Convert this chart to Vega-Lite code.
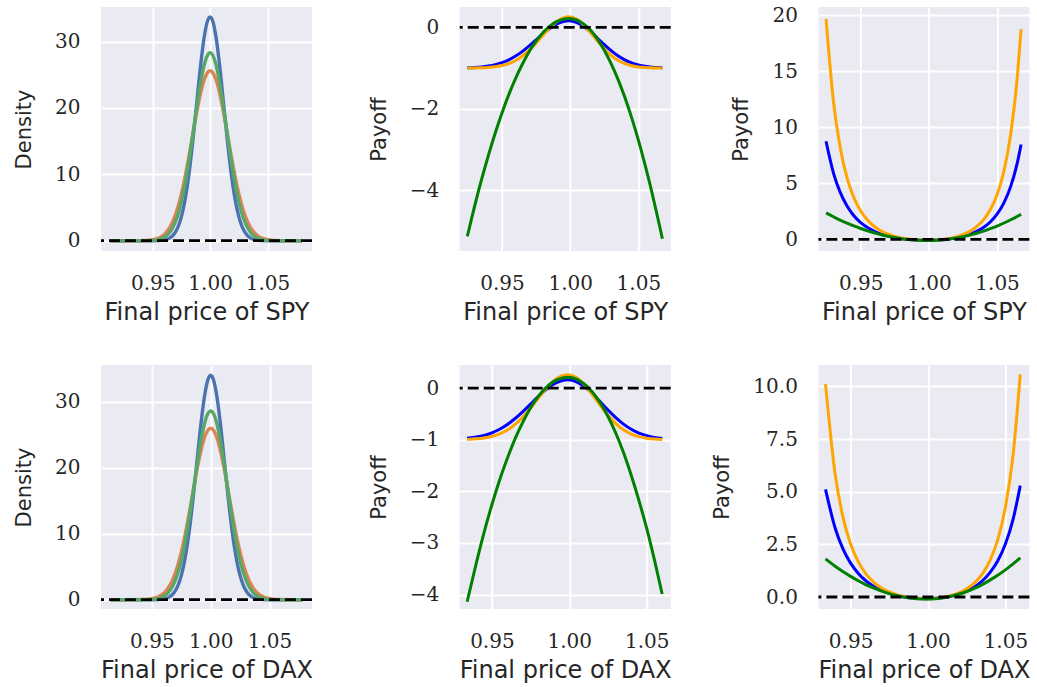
{
  "$schema": "https://vega.github.io/schema/vega-lite/v6.json",
  "background": "white",
  "padding": {"left": 13, "top": 5, "right": 5, "bottom": 5},
  "config": {
    "view": {"fill": "#eaeaf2", "stroke": null},
    "axis": {"grid": true, "gridColor": "white", "gridWidth": 2, "domain": false, "ticks": false,
      "labelFont": "DejaVu Serif", "labelFontSize": 20, "labelColor": "#262626",
      "titleFont": "DejaVu Sans", "titleFontWeight": "normal", "titleColor": "#262626"},
    "axisX": {"labelPadding": 22, "titlePadding": 7, "titleFontSize": 24},
    "axisY": {"labelPadding": 21, "titlePadding": 20, "titleFontSize": 21},
    "line": {"strokeWidth": 3, "interpolate": "monotone"}
  },
  "datasets": {
    "p1": [
      {"x":0.913,"b":0,"o":0,"g":0},{"x":0.93,"b":0,"o":0,"g":0},{"x":0.94,"b":0,"o":0.02,"g":0},{"x":0.945,"b":0,"o":0.05,"g":0.01},
      {"x":0.95,"b":0,"o":0.15,"g":0.05},{"x":0.955,"b":0.02,"o":0.4,"g":0.17},{"x":0.9575,"b":0.05,"o":0.62,"g":0.3},{"x":0.96,"b":0.11,"o":0.95,"g":0.51},
      {"x":0.9625,"b":0.22,"o":1.42,"g":0.82},{"x":0.965,"b":0.43,"o":2.06,"g":1.3},{"x":0.9675,"b":0.78,"o":2.91,"g":1.98},{"x":0.97,"b":1.36,"o":4.01,"g":2.94},
      {"x":0.9725,"b":2.27,"o":5.4,"g":4.22},{"x":0.975,"b":3.62,"o":7.07,"g":5.87},{"x":0.9775,"b":5.54,"o":9.03,"g":7.92},{"x":0.98,"b":8.09,"o":11.24,"g":10.34},
      {"x":0.9825,"b":11.3,"o":13.63,"g":13.1},{"x":0.985,"b":15.1,"o":16.11,"g":16.07},{"x":0.9875,"b":19.3,"o":18.56,"g":19.1},{"x":0.99,"b":23.59,"o":20.84,"g":22.0},
      {"x":0.9925,"b":27.57,"o":22.8,"g":24.56},{"x":0.995,"b":30.82,"o":24.32,"g":26.57},{"x":0.9975,"b":32.96,"o":25.27,"g":27.86},{"x":1.0,"b":33.7,"o":25.6,"g":28.3},
      {"x":1.0025,"b":32.96,"o":25.27,"g":27.86},{"x":1.005,"b":30.82,"o":24.32,"g":26.57},{"x":1.0075,"b":27.57,"o":22.8,"g":24.56},{"x":1.01,"b":23.59,"o":20.84,"g":22.0},
      {"x":1.0125,"b":19.3,"o":18.56,"g":19.1},{"x":1.015,"b":15.1,"o":16.11,"g":16.07},{"x":1.0175,"b":11.3,"o":13.63,"g":13.1},{"x":1.02,"b":8.09,"o":11.24,"g":10.34},
      {"x":1.0225,"b":5.54,"o":9.03,"g":7.92},{"x":1.025,"b":3.62,"o":7.07,"g":5.87},{"x":1.0275,"b":2.27,"o":5.4,"g":4.22},{"x":1.03,"b":1.36,"o":4.01,"g":2.94},
      {"x":1.0325,"b":0.78,"o":2.91,"g":1.98},{"x":1.035,"b":0.43,"o":2.06,"g":1.3},{"x":1.0375,"b":0.22,"o":1.42,"g":0.82},{"x":1.04,"b":0.11,"o":0.95,"g":0.51},
      {"x":1.0425,"b":0.05,"o":0.62,"g":0.3},{"x":1.045,"b":0.02,"o":0.4,"g":0.17},{"x":1.05,"b":0,"o":0.15,"g":0.05},{"x":1.055,"b":0,"o":0.05,"g":0.01},
      {"x":1.06,"b":0,"o":0.02,"g":0},{"x":1.07,"b":0,"o":0,"g":0},{"x":1.08,"b":0,"o":0,"g":0}
    ],
    "p2": [
      {"x":0.9246,"b":-0.992,"o":-0.999,"g":-5.13},{"x":0.93,"b":-0.984,"o":-0.997,"g":-4.38},{"x":0.935,"b":-0.971,"o":-0.992,"g":-3.74},
      {"x":0.94,"b":-0.949,"o":-0.984,"g":-3.15},{"x":0.945,"b":-0.916,"o":-0.967,"g":-2.6},{"x":0.95,"b":-0.866,"o":-0.937,"g":-2.1},
      {"x":0.955,"b":-0.797,"o":-0.888,"g":-1.65},{"x":0.96,"b":-0.705,"o":-0.812,"g":-1.25},{"x":0.965,"b":-0.59,"o":-0.703,"g":-0.9},
      {"x":0.97,"b":-0.456,"o":-0.56,"g":-0.59},{"x":0.975,"b":-0.309,"o":-0.387,"g":-0.34},{"x":0.98,"b":-0.162,"o":-0.198,"g":-0.13},
      {"x":0.985,"b":-0.028,"o":-0.014,"g":0.03},{"x":0.99,"b":0.078,"o":0.139,"g":0.14},{"x":0.995,"b":0.143,"o":0.235,"g":0.2},
      {"x":0.999,"b":0.16,"o":0.26,"g":0.22},{"x":1.005,"b":0.117,"o":0.196,"g":0.18},{"x":1.01,"b":0.023,"o":0.057,"g":0.08},
      {"x":1.015,"b":-0.111,"o":-0.131,"g":-0.07},{"x":1.02,"b":-0.267,"o":-0.335,"g":-0.29},{"x":1.025,"b":-0.426,"o":-0.527,"g":-0.56},
      {"x":1.03,"b":-0.573,"o":-0.687,"g":-0.89},{"x":1.035,"b":-0.699,"o":-0.808,"g":-1.27},{"x":1.04,"b":-0.798,"o":-0.89,"g":-1.71},
      {"x":1.045,"b":-0.872,"o":-0.941,"g":-2.21},{"x":1.05,"b":-0.922,"o":-0.971,"g":-2.77},{"x":1.055,"b":-0.956,"o":-0.987,"g":-3.39},
      {"x":1.06,"b":-0.976,"o":-0.994,"g":-4.06},{"x":1.065,"b":-0.987,"o":-0.998,"g":-4.79},{"x":1.0676,"b":-0.991,"o":-0.999,"g":-5.19}
    ],
    "p3": [
      {"x":0.9246,"b":8.76,"o":19.67,"g":2.36},{"x":0.93,"b":5.94,"o":12.35,"g":2.02},{"x":0.935,"b":4.19,"o":8.18,"g":1.72},
      {"x":0.94,"b":2.97,"o":5.49,"g":1.45},{"x":0.945,"b":2.11,"o":3.72,"g":1.2},{"x":0.95,"b":1.49,"o":2.53,"g":0.97},
      {"x":0.955,"b":1.05,"o":1.72,"g":0.76},{"x":0.96,"b":0.72,"o":1.15,"g":0.58},{"x":0.965,"b":0.47,"o":0.75,"g":0.41},
      {"x":0.97,"b":0.29,"o":0.47,"g":0.27},{"x":0.975,"b":0.16,"o":0.27,"g":0.16},{"x":0.98,"b":0.06,"o":0.12,"g":0.06},
      {"x":0.985,"b":-0.005,"o":0.026,"g":-0.01},{"x":0.99,"b":-0.05,"o":-0.04,"g":-0.06},{"x":0.995,"b":-0.074,"o":-0.072,"g":-0.093},
      {"x":0.999,"b":-0.08,"o":-0.08,"g":-0.1},{"x":1.005,"b":-0.065,"o":-0.058,"g":-0.082},{"x":1.01,"b":-0.027,"o":-0.005,"g":-0.04},
      {"x":1.015,"b":0.036,"o":0.085,"g":0.027},{"x":1.02,"b":0.13,"o":0.22,"g":0.12},{"x":1.025,"b":0.26,"o":0.42,"g":0.24},
      {"x":1.03,"b":0.45,"o":0.71,"g":0.38},{"x":1.035,"b":0.71,"o":1.13,"g":0.54},{"x":1.04,"b":1.06,"o":1.74,"g":0.73},
      {"x":1.045,"b":1.55,"o":2.64,"g":0.95},{"x":1.05,"b":2.25,"o":3.99,"g":1.19},{"x":1.055,"b":3.26,"o":6.08,"g":1.46},
      {"x":1.06,"b":4.73,"o":9.38,"g":1.75},{"x":1.065,"b":6.92,"o":14.72,"g":2.06},{"x":1.0676,"b":8.47,"o":18.77,"g":2.23}
    ],
    "p4": [
      {"x":0.915,"b":0,"o":0,"g":0},{"x":0.93,"b":0,"o":0,"g":0},{"x":0.94,"b":0,"o":0.02,"g":0},{"x":0.945,"b":0,"o":0.05,"g":0.01},
      {"x":0.95,"b":0,"o":0.15,"g":0.05},{"x":0.955,"b":0.02,"o":0.41,"g":0.17},{"x":0.9575,"b":0.05,"o":0.63,"g":0.3},{"x":0.96,"b":0.11,"o":0.96,"g":0.52},
      {"x":0.9625,"b":0.22,"o":1.44,"g":0.83},{"x":0.965,"b":0.43,"o":2.09,"g":1.31},{"x":0.9675,"b":0.79,"o":2.96,"g":2.0},{"x":0.97,"b":1.37,"o":4.07,"g":2.97},
      {"x":0.9725,"b":2.29,"o":5.48,"g":4.26},{"x":0.975,"b":3.65,"o":7.18,"g":5.93},{"x":0.9775,"b":5.59,"o":9.17,"g":8.0},{"x":0.98,"b":8.16,"o":11.42,"g":10.45},
      {"x":0.9825,"b":11.4,"o":13.84,"g":13.24},{"x":0.985,"b":15.23,"o":16.36,"g":16.24},{"x":0.9875,"b":19.47,"o":18.85,"g":19.3},{"x":0.99,"b":23.8,"o":21.17,"g":22.23},
      {"x":0.9925,"b":27.82,"o":23.16,"g":24.82},{"x":0.995,"b":31.09,"o":24.7,"g":26.85},{"x":0.9975,"b":33.25,"o":25.66,"g":28.16},{"x":1.0,"b":34.0,"o":26.0,"g":28.6},
      {"x":1.0025,"b":33.25,"o":25.66,"g":28.16},{"x":1.005,"b":31.09,"o":24.7,"g":26.85},{"x":1.0075,"b":27.82,"o":23.16,"g":24.82},{"x":1.01,"b":23.8,"o":21.17,"g":22.23},
      {"x":1.0125,"b":19.47,"o":18.85,"g":19.3},{"x":1.015,"b":15.23,"o":16.36,"g":16.24},{"x":1.0175,"b":11.4,"o":13.84,"g":13.24},{"x":1.02,"b":8.16,"o":11.42,"g":10.45},
      {"x":1.0225,"b":5.59,"o":9.17,"g":8.0},{"x":1.025,"b":3.65,"o":7.18,"g":5.93},{"x":1.0275,"b":2.29,"o":5.48,"g":4.26},{"x":1.03,"b":1.37,"o":4.07,"g":2.97},
      {"x":1.0325,"b":0.79,"o":2.96,"g":2.0},{"x":1.035,"b":0.43,"o":2.09,"g":1.31},{"x":1.0375,"b":0.22,"o":1.44,"g":0.83},{"x":1.04,"b":0.11,"o":0.96,"g":0.52},
      {"x":1.0425,"b":0.05,"o":0.63,"g":0.3},{"x":1.045,"b":0.02,"o":0.41,"g":0.17},{"x":1.05,"b":0,"o":0.15,"g":0.05},{"x":1.055,"b":0,"o":0.05,"g":0.01},
      {"x":1.06,"b":0,"o":0.02,"g":0},{"x":1.07,"b":0,"o":0,"g":0},{"x":1.078,"b":0,"o":0,"g":0}
    ],
    "p5": [
      {"x":0.934,"b":-0.974,"o":-0.994,"g":-4.14},{"x":0.94,"b":-0.949,"o":-0.984,"g":-3.38},{"x":0.945,"b":-0.916,"o":-0.967,"g":-2.79},
      {"x":0.95,"b":-0.866,"o":-0.937,"g":-2.26},{"x":0.955,"b":-0.797,"o":-0.888,"g":-1.78},{"x":0.96,"b":-0.705,"o":-0.812,"g":-1.36},
      {"x":0.965,"b":-0.59,"o":-0.703,"g":-0.98},{"x":0.97,"b":-0.456,"o":-0.56,"g":-0.66},{"x":0.975,"b":-0.309,"o":-0.387,"g":-0.38},
      {"x":0.98,"b":-0.162,"o":-0.198,"g":-0.16},{"x":0.985,"b":-0.028,"o":-0.014,"g":0.01},{"x":0.99,"b":0.078,"o":0.139,"g":0.13},
      {"x":0.995,"b":0.143,"o":0.235,"g":0.19},{"x":0.999,"b":0.16,"o":0.26,"g":0.21},{"x":1.005,"b":0.117,"o":0.196,"g":0.17},
      {"x":1.01,"b":0.023,"o":0.057,"g":0.07},{"x":1.015,"b":-0.111,"o":-0.131,"g":-0.08},{"x":1.02,"b":-0.267,"o":-0.335,"g":-0.29},
      {"x":1.025,"b":-0.426,"o":-0.527,"g":-0.55},{"x":1.03,"b":-0.573,"o":-0.687,"g":-0.87},{"x":1.035,"b":-0.699,"o":-0.808,"g":-1.25},
      {"x":1.04,"b":-0.798,"o":-0.89,"g":-1.69},{"x":1.045,"b":-0.872,"o":-0.941,"g":-2.18},{"x":1.05,"b":-0.922,"o":-0.971,"g":-2.72},
      {"x":1.055,"b":-0.956,"o":-0.987,"g":-3.33},{"x":1.06,"b":-0.976,"o":-0.994,"g":-3.99}
    ],
    "p6": [
      {"x":0.9338,"b":5.11,"o":10.11,"g":1.81},{"x":0.94,"b":3.28,"o":5.85,"g":1.46},{"x":0.945,"b":2.3,"o":3.82,"g":1.21},
      {"x":0.95,"b":1.61,"o":2.52,"g":0.98},{"x":0.955,"b":1.12,"o":1.67,"g":0.77},{"x":0.96,"b":0.76,"o":1.09,"g":0.58},
      {"x":0.965,"b":0.5,"o":0.7,"g":0.42},{"x":0.97,"b":0.31,"o":0.43,"g":0.28},{"x":0.975,"b":0.17,"o":0.24,"g":0.16},
      {"x":0.98,"b":0.07,"o":0.1,"g":0.06},{"x":0.985,"b":0.0,"o":0.01,"g":-0.01},{"x":0.99,"b":-0.05,"o":-0.04,"g":-0.06},
      {"x":0.995,"b":-0.074,"o":-0.073,"g":-0.093},{"x":0.999,"b":-0.08,"o":-0.08,"g":-0.1},{"x":1.005,"b":-0.064,"o":-0.061,"g":-0.081},
      {"x":1.01,"b":-0.025,"o":-0.013,"g":-0.035},{"x":1.015,"b":0.04,"o":0.07,"g":0.037},{"x":1.02,"b":0.14,"o":0.2,"g":0.14},
      {"x":1.025,"b":0.28,"o":0.39,"g":0.26},{"x":1.03,"b":0.48,"o":0.67,"g":0.41},{"x":1.035,"b":0.76,"o":1.09,"g":0.59},
      {"x":1.04,"b":1.16,"o":1.73,"g":0.8},{"x":1.045,"b":1.71,"o":2.71,"g":1.03},{"x":1.05,"b":2.52,"o":4.26,"g":1.29},
      {"x":1.055,"b":3.7,"o":6.78,"g":1.57},{"x":1.0596,"b":5.29,"o":10.57,"g":1.86}
    ]
  },
  "columns": 3,
  "spacing": {"row": 114, "column": 147.7},
  "bounds": "flush",
  "concat": [
    {"width": 211, "height": 244, "data": {"name": "p1"},
     "layer": [
      {"mark": {"type": "line", "color": "#4c72b0", "strokeWidth": 3.4}, "encoding": {
        "x": {"field": "x", "type": "quantitative", "title": "Final price of SPY", "scale": {"domain": [0.905, 1.0887], "nice": false, "zero": false}, "axis": {"values": [0.95, 1.0, 1.05], "format": ".2f"}},
        "y": {"field": "b", "type": "quantitative", "title": "Density", "scale": {"domain": [-1.55, 35.2], "nice": false, "zero": false}, "axis": {"values": [0, 10, 20, 30], "format": "d"}}}},
      {"mark": {"type": "line", "color": "#dd8452", "strokeWidth": 3.4}, "encoding": {
        "x": {"field": "x", "type": "quantitative", "title": "Final price of SPY", "scale": {"domain": [0.905, 1.0887], "nice": false, "zero": false}},
        "y": {"field": "o", "type": "quantitative", "title": "Density", "scale": {"domain": [-1.55, 35.2], "nice": false, "zero": false}}}},
      {"mark": {"type": "line", "color": "#55a868", "strokeWidth": 3.4}, "encoding": {
        "x": {"field": "x", "type": "quantitative", "title": "Final price of SPY", "scale": {"domain": [0.905, 1.0887], "nice": false, "zero": false}},
        "y": {"field": "g", "type": "quantitative", "title": "Density", "scale": {"domain": [-1.55, 35.2], "nice": false, "zero": false}}}},
      {"data": {"values": [{"z": 0}]}, "mark": {"type": "rule", "color": "black", "strokeDash": [11, 5], "strokeWidth": 2.8}, "encoding": {
        "y": {"field": "z", "type": "quantitative", "title": "Density", "scale": {"domain": [-1.55, 35.2], "nice": false, "zero": false}}}}
     ]},
    {"width": 211, "height": 244, "data": {"name": "p2"},
     "layer": [
      {"mark": {"type": "line", "color": "blue"}, "encoding": {
        "x": {"field": "x", "type": "quantitative", "title": "Final price of SPY", "scale": {"domain": [0.919, 1.0737], "nice": false, "zero": false}, "axis": {"values": [0.95, 1.0, 1.05], "format": ".2f"}},
        "y": {"field": "b", "type": "quantitative", "title": "Payoff", "scale": {"domain": [-5.49, 0.5], "nice": false, "zero": false}, "axis": {"values": [-4, -2, 0], "format": "d"}}}},
      {"mark": {"type": "line", "color": "orange"}, "encoding": {
        "x": {"field": "x", "type": "quantitative", "title": "Final price of SPY", "scale": {"domain": [0.919, 1.0737], "nice": false, "zero": false}},
        "y": {"field": "o", "type": "quantitative", "title": "Payoff", "scale": {"domain": [-5.49, 0.5], "nice": false, "zero": false}}}},
      {"mark": {"type": "line", "color": "green"}, "encoding": {
        "x": {"field": "x", "type": "quantitative", "title": "Final price of SPY", "scale": {"domain": [0.919, 1.0737], "nice": false, "zero": false}},
        "y": {"field": "g", "type": "quantitative", "title": "Payoff", "scale": {"domain": [-5.49, 0.5], "nice": false, "zero": false}}}},
      {"data": {"values": [{"z": 0}]}, "mark": {"type": "rule", "color": "black", "strokeDash": [11, 5], "strokeWidth": 2.8}, "encoding": {
        "y": {"field": "z", "type": "quantitative", "title": "Payoff", "scale": {"domain": [-5.49, 0.5], "nice": false, "zero": false}}}}
     ]},
    {"width": 211, "height": 244, "data": {"name": "p3"},
     "layer": [
      {"mark": {"type": "line", "color": "blue"}, "encoding": {
        "x": {"field": "x", "type": "quantitative", "title": "Final price of SPY", "scale": {"domain": [0.919, 1.0737], "nice": false, "zero": false}, "axis": {"values": [0.95, 1.0, 1.05], "format": ".2f"}},
        "y": {"field": "b", "type": "quantitative", "title": "Payoff", "scale": {"domain": [-1.04, 20.74], "nice": false, "zero": false}, "axis": {"values": [0, 5, 10, 15, 20], "format": "d"}}}},
      {"mark": {"type": "line", "color": "orange"}, "encoding": {
        "x": {"field": "x", "type": "quantitative", "title": "Final price of SPY", "scale": {"domain": [0.919, 1.0737], "nice": false, "zero": false}},
        "y": {"field": "o", "type": "quantitative", "title": "Payoff", "scale": {"domain": [-1.04, 20.74], "nice": false, "zero": false}}}},
      {"mark": {"type": "line", "color": "green"}, "encoding": {
        "x": {"field": "x", "type": "quantitative", "title": "Final price of SPY", "scale": {"domain": [0.919, 1.0737], "nice": false, "zero": false}},
        "y": {"field": "g", "type": "quantitative", "title": "Payoff", "scale": {"domain": [-1.04, 20.74], "nice": false, "zero": false}}}},
      {"data": {"values": [{"z": 0}]}, "mark": {"type": "rule", "color": "black", "strokeDash": [11, 5], "strokeWidth": 2.8}, "encoding": {
        "y": {"field": "z", "type": "quantitative", "title": "Payoff", "scale": {"domain": [-1.04, 20.74], "nice": false, "zero": false}}}}
     ]},
    {"width": 211, "height": 244, "data": {"name": "p4"},
     "layer": [
      {"mark": {"type": "line", "color": "#4c72b0", "strokeWidth": 3.4}, "encoding": {
        "x": {"field": "x", "type": "quantitative", "title": "Final price of DAX", "scale": {"domain": [0.9068, 1.0861], "nice": false, "zero": false}, "axis": {"values": [0.95, 1.0, 1.05], "format": ".2f"}},
        "y": {"field": "b", "type": "quantitative", "title": "Density", "scale": {"domain": [-1.41, 35.56], "nice": false, "zero": false}, "axis": {"values": [0, 10, 20, 30], "format": "d"}}}},
      {"mark": {"type": "line", "color": "#dd8452", "strokeWidth": 3.4}, "encoding": {
        "x": {"field": "x", "type": "quantitative", "title": "Final price of DAX", "scale": {"domain": [0.9068, 1.0861], "nice": false, "zero": false}},
        "y": {"field": "o", "type": "quantitative", "title": "Density", "scale": {"domain": [-1.41, 35.56], "nice": false, "zero": false}}}},
      {"mark": {"type": "line", "color": "#55a868", "strokeWidth": 3.4}, "encoding": {
        "x": {"field": "x", "type": "quantitative", "title": "Final price of DAX", "scale": {"domain": [0.9068, 1.0861], "nice": false, "zero": false}},
        "y": {"field": "g", "type": "quantitative", "title": "Density", "scale": {"domain": [-1.41, 35.56], "nice": false, "zero": false}}}},
      {"data": {"values": [{"z": 0}]}, "mark": {"type": "rule", "color": "black", "strokeDash": [11, 5], "strokeWidth": 2.8}, "encoding": {
        "y": {"field": "z", "type": "quantitative", "title": "Density", "scale": {"domain": [-1.41, 35.56], "nice": false, "zero": false}}}}
     ]},
    {"width": 211, "height": 244, "data": {"name": "p5"},
     "layer": [
      {"mark": {"type": "line", "color": "blue"}, "encoding": {
        "x": {"field": "x", "type": "quantitative", "title": "Final price of DAX", "scale": {"domain": [0.9292, 1.0655], "nice": false, "zero": false}, "axis": {"values": [0.95, 1.0, 1.05], "format": ".2f"}},
        "y": {"field": "b", "type": "quantitative", "title": "Payoff", "scale": {"domain": [-4.28, 0.447], "nice": false, "zero": false}, "axis": {"values": [-4, -3, -2, -1, 0], "format": "d"}}}},
      {"mark": {"type": "line", "color": "orange"}, "encoding": {
        "x": {"field": "x", "type": "quantitative", "title": "Final price of DAX", "scale": {"domain": [0.9292, 1.0655], "nice": false, "zero": false}},
        "y": {"field": "o", "type": "quantitative", "title": "Payoff", "scale": {"domain": [-4.28, 0.447], "nice": false, "zero": false}}}},
      {"mark": {"type": "line", "color": "green"}, "encoding": {
        "x": {"field": "x", "type": "quantitative", "title": "Final price of DAX", "scale": {"domain": [0.9292, 1.0655], "nice": false, "zero": false}},
        "y": {"field": "g", "type": "quantitative", "title": "Payoff", "scale": {"domain": [-4.28, 0.447], "nice": false, "zero": false}}}},
      {"data": {"values": [{"z": 0}]}, "mark": {"type": "rule", "color": "black", "strokeDash": [11, 5], "strokeWidth": 2.8}, "encoding": {
        "y": {"field": "z", "type": "quantitative", "title": "Payoff", "scale": {"domain": [-4.28, 0.447], "nice": false, "zero": false}}}}
     ]},
    {"width": 211, "height": 244, "data": {"name": "p6"},
     "layer": [
      {"mark": {"type": "line", "color": "blue"}, "encoding": {
        "x": {"field": "x", "type": "quantitative", "title": "Final price of DAX", "scale": {"domain": [0.9292, 1.0655], "nice": false, "zero": false}, "axis": {"values": [0.95, 1.0, 1.05], "format": ".2f"}},
        "y": {"field": "b", "type": "quantitative", "title": "Payoff", "scale": {"domain": [-0.57, 11.02], "nice": false, "zero": false}, "axis": {"values": [0, 2.5, 5, 7.5, 10], "format": ".1f"}}}},
      {"mark": {"type": "line", "color": "orange"}, "encoding": {
        "x": {"field": "x", "type": "quantitative", "title": "Final price of DAX", "scale": {"domain": [0.9292, 1.0655], "nice": false, "zero": false}},
        "y": {"field": "o", "type": "quantitative", "title": "Payoff", "scale": {"domain": [-0.57, 11.02], "nice": false, "zero": false}}}},
      {"mark": {"type": "line", "color": "green"}, "encoding": {
        "x": {"field": "x", "type": "quantitative", "title": "Final price of DAX", "scale": {"domain": [0.9292, 1.0655], "nice": false, "zero": false}},
        "y": {"field": "g", "type": "quantitative", "title": "Payoff", "scale": {"domain": [-0.57, 11.02], "nice": false, "zero": false}}}},
      {"data": {"values": [{"z": 0}]}, "mark": {"type": "rule", "color": "black", "strokeDash": [11, 5], "strokeWidth": 2.8}, "encoding": {
        "y": {"field": "z", "type": "quantitative", "title": "Payoff", "scale": {"domain": [-0.57, 11.02], "nice": false, "zero": false}}}}
     ]}
  ]
}
